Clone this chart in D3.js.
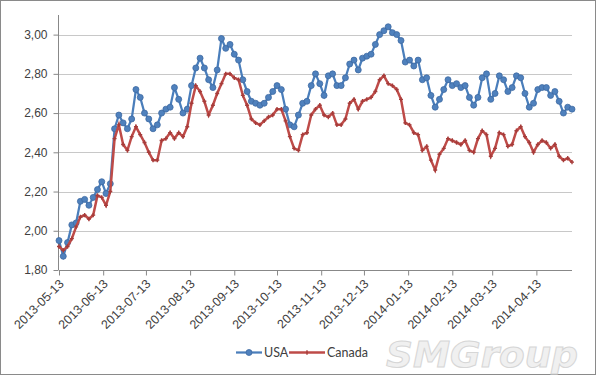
<!DOCTYPE html>
<html>
<head>
<meta charset="utf-8">
<script src="https://cdn.jsdelivr.net/npm/d3@7"></script>
<style>
  body { margin: 0; background: #fff; }
  svg { display: block; font-family: Lato, "Open Sans", sans-serif; }
  .axis text { fill: #404040; font-size: 12px; }
  .axis path, .axis line { stroke: #888; }
</style>
</head>
<body>
<svg id="chart" width="597" height="376"></svg>
<script>
// data, one point every 3 days from the first date
var startDate = "2013-05-13";
var stepDays = 3;

var usa = [1.95,1.87,1.94,2.03,2.04,2.15,2.16,2.13,2.17,2.21,2.25,2.19,2.24,2.52,2.59,2.55,2.52,2.57,2.72,2.68,
  2.60,2.57,2.52,2.54,2.60,2.62,2.63,2.73,2.67,2.60,2.62,2.74,2.83,2.88,2.83,2.77,2.73,2.82,2.98,2.93,
  2.95,2.90,2.87,2.77,2.71,2.66,2.65,2.64,2.65,2.68,2.71,2.74,2.72,2.62,2.54,2.53,2.59,2.65,2.66,2.74,
  2.80,2.75,2.69,2.79,2.80,2.74,2.74,2.78,2.85,2.87,2.82,2.88,2.89,2.90,2.95,3.00,3.02,3.04,3.01,3.00,
  2.97,2.86,2.87,2.84,2.87,2.77,2.78,2.69,2.63,2.67,2.72,2.77,2.74,2.75,2.73,2.74,2.68,2.64,2.68,2.78,
  2.80,2.67,2.70,2.79,2.77,2.71,2.73,2.79,2.78,2.70,2.63,2.65,2.72,2.73,2.73,2.69,2.71,2.66,2.60,2.63,2.62];

var canada = [1.92,1.90,1.92,1.96,2.02,2.07,2.08,2.06,2.08,2.18,2.17,2.13,2.20,2.47,2.54,2.44,2.41,2.48,2.53,2.49,
  2.45,2.40,2.36,2.36,2.46,2.47,2.50,2.47,2.50,2.48,2.53,2.65,2.74,2.71,2.66,2.59,2.64,2.70,2.75,2.80,
  2.80,2.78,2.77,2.69,2.64,2.57,2.55,2.54,2.56,2.58,2.59,2.62,2.62,2.56,2.48,2.42,2.41,2.49,2.50,2.59,
  2.62,2.64,2.59,2.58,2.60,2.54,2.54,2.57,2.65,2.67,2.62,2.66,2.67,2.68,2.71,2.77,2.79,2.75,2.74,2.72,
  2.67,2.55,2.54,2.50,2.49,2.41,2.43,2.36,2.31,2.39,2.42,2.47,2.46,2.45,2.44,2.46,2.41,2.40,2.47,2.51,
  2.49,2.38,2.42,2.50,2.49,2.43,2.44,2.51,2.53,2.48,2.45,2.40,2.44,2.46,2.45,2.42,2.44,2.38,2.36,2.37,2.35];

var tickLabels = ["2013-05-13","2013-06-13","2013-07-13","2013-08-13","2013-09-13","2013-10-13",
  "2013-11-13","2013-12-13","2014-01-13","2014-02-13","2014-03-13","2014-04-13"];
var yTicks = [1.8, 2.0, 2.2, 2.4, 2.6, 2.8, 3.0];

var parse = d3.timeParse("%Y-%m-%d");
var t0 = parse(startDate);
var dates = usa.map(function(d, i) { return d3.timeDay.offset(t0, i * stepDays); });

var svg = d3.select("#chart");

// outer frame
svg.append("rect")
  .attr("x", 0.5).attr("y", 0.5)
  .attr("width", 595).attr("height", 374)
  .attr("fill", "#fff").attr("stroke", "#8a8a8a");

var plotLeft = 59, plotRight = 572, plotTop = 15, plotBottom = 270;

var xScale = d3.scaleTime()
  .domain([t0, dates[dates.length - 1]])
  .range([plotLeft, plotRight]);

var yScale = d3.scaleLinear()
  .domain([1.8, 3.1])
  .range([plotBottom, plotTop]);

// gridlines
svg.append("g").selectAll("line")
  .data(yTicks.slice(1))
  .enter().append("line")
  .attr("x1", plotLeft).attr("x2", plotRight)
  .attr("y1", function(d) { return Math.round(yScale(d)) + 0.5; })
  .attr("y2", function(d) { return Math.round(yScale(d)) + 0.5; })
  .attr("stroke", "#c8c8c8");

var fmt = d3.format(".2f");

// y-as
svg.append("g")
  .attr("class", "axis")
  .attr("transform", "translate(" + (plotLeft - 0.5) + ",0)")
  .call(d3.axisLeft(yScale).tickValues(yTicks).tickSize(5).tickPadding(6)
    .tickFormat(function(d) { return fmt(d).replace(".", ","); }))
  .call(function(g) { g.select(".domain").attr("d", "M0," + plotTop + "V" + plotBottom); });

// x-as
svg.append("g")
  .attr("class", "axis")
  .attr("transform", "translate(0," + (plotBottom + 0.5) + ")")
  .call(d3.axisBottom(xScale).tickValues(tickLabels.map(parse)).tickSize(5)
    .tickFormat(d3.timeFormat("%Y-%m-%d")))
  .call(function(g) { g.select(".domain").attr("d", "M" + plotLeft + ",0H" + plotRight); })
  .selectAll("text")
  .style("text-anchor", "end")
  .style("font-size", "12.5px")
  .attr("x", 0).attr("y", 0).attr("dy", "0.35em")
  .attr("transform", "translate(2,11) rotate(-45)");

var line = d3.line()
  .x(function(d, i) { return xScale(dates[i]); })
  .y(function(d) { return yScale(d); });

// USA
svg.append("path")
  .datum(usa)
  .attr("d", line)
  .attr("fill", "none")
  .attr("stroke", "#4a7ebb")
  .attr("stroke-width", 2.25);

svg.append("g").selectAll("circle")
  .data(usa)
  .enter().append("circle")
  .attr("cx", function(d, i) { return xScale(dates[i]); })
  .attr("cy", function(d) { return yScale(d); })
  .attr("r", 3)
  .attr("fill", "#4f81bd")
  .attr("stroke", "#3d6aa2")
  .attr("stroke-width", 0.8);

// Canada
svg.append("path")
  .datum(canada)
  .attr("d", line)
  .attr("fill", "none")
  .attr("stroke", "#be4b48")
  .attr("stroke-width", 2.5);

svg.append("g").selectAll("path")
  .data(canada)
  .enter().append("path")
  .attr("d", function(d, i) {
    var x = xScale(dates[i]), y = yScale(d);
    return "M" + (x - 2) + "," + y + "H" + (x + 2) + "M" + x + "," + (y - 2.2) + "V" + (y + 2.2);
  })
  .attr("stroke", "#a63c3a")
  .attr("stroke-width", 1.4);

// legend
var lg = svg.append("g").attr("font-size", 12.5).attr("fill", "#404040");
lg.append("line").attr("x1", 236).attr("x2", 262).attr("y1", 352.5).attr("y2", 352.5)
  .attr("stroke", "#4a7ebb").attr("stroke-width", 2.25);
lg.append("circle").attr("cx", 249).attr("cy", 352.5).attr("r", 3)
  .attr("fill", "#4f81bd").attr("stroke", "#3d6aa2").attr("stroke-width", 0.8);
lg.append("text").attr("x", 264).attr("y", 357).text("USA");
lg.append("line").attr("x1", 289).attr("x2", 325).attr("y1", 352.5).attr("y2", 352.5)
  .attr("stroke", "#be4b48").attr("stroke-width", 2.5);
lg.append("path").attr("d", "M307,350.3V354.7").attr("stroke", "#a63c3a").attr("stroke-width", 1.4);
lg.append("text").attr("x", 327).attr("y", 357).text("Canada");

// watermark
svg.append("text")
  .attr("x", 386).attr("y", 367)
  .attr("textLength", 192)
  .attr("lengthAdjust", "spacingAndGlyphs")
  .attr("font-family", "DejaVu Sans")
  .attr("font-size", 36)
  .attr("font-weight", "bold")
  .attr("font-style", "italic")
  .attr("fill", "#f0f0f0")
  .attr("stroke", "#d6d6d6")
  .attr("stroke-width", 1)
  .text("SMGroup");
</script>
</body>
</html>
